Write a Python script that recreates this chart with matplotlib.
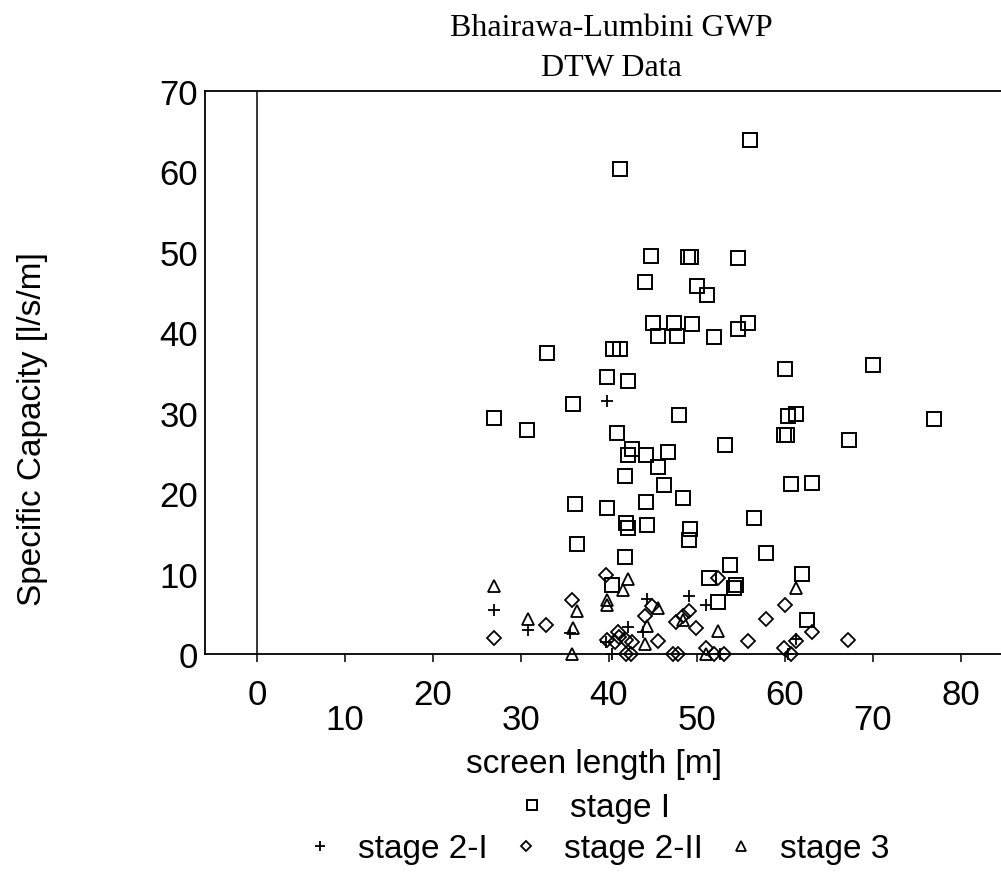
import matplotlib
matplotlib.use("Agg")
import matplotlib.pyplot as plt
from matplotlib.ticker import MultipleLocator

plt.rcParams["font.family"] = ["Liberation Sans", "DejaVu Sans"]

# screen length [m] vs specific capacity [l/s/m]
stage1_x = [56.0, 41.3, 44.8, 49.0, 49.3, 54.7, 44.1, 50.0, 51.1, 45.0,
            47.4, 49.5, 55.8, 45.6, 47.7, 52.0, 54.7, 33.0, 40.5, 41.3,
            39.8, 42.2, 35.9, 27.0, 30.7, 48.0, 40.9, 42.6, 42.2, 44.2,
            46.7, 53.2, 45.6, 41.8, 46.3, 36.1, 39.8, 44.2, 48.4, 60.0,
            70.0, 60.3, 61.3, 59.9, 60.2, 67.3, 76.9, 60.7, 63.1, 56.5,
            49.2, 49.1, 42.0, 42.2, 44.3, 36.4, 41.8, 40.3, 57.8, 53.8,
            51.4, 54.2, 54.5, 52.4, 62.0, 62.5]
stage1_y = [63.9, 60.3, 49.5, 49.4, 49.4, 49.3, 46.3, 45.8, 44.6, 41.1,
            41.1, 41.0, 41.1, 39.5, 39.6, 39.4, 40.4, 37.4, 37.9, 37.9,
            34.5, 33.9, 31.1, 29.4, 27.9, 29.7, 27.5, 25.5, 24.8, 24.8,
            25.1, 26.0, 23.2, 22.1, 21.0, 18.6, 18.1, 18.9, 19.4, 35.5,
            35.9, 29.6, 29.8, 27.2, 27.2, 26.6, 29.2, 21.2, 21.3, 16.9,
            15.6, 14.2, 16.3, 15.7, 16.0, 13.7, 12.1, 8.6, 12.5, 11.1,
            9.4, 8.2, 8.6, 6.5, 10.0, 4.2]

stage21_x = [26.9, 30.8, 39.8, 35.6, 39.7, 40.3, 42.2, 44.3, 43.9, 49.1,
             51.0, 52.6, 61.3, 60.4]
stage21_y = [5.5, 3.0, 31.5, 2.6, 1.5, 0.0, 3.4, 6.8, 2.8, 7.2,
             6.1, 0.0, 1.9, 0.0]

stage22_x = [26.9, 32.8, 35.8, 39.7, 39.8, 41.0, 41.2, 42.0, 42.6, 40.7,
             42.0, 42.5, 44.9, 44.1, 45.6, 47.3, 47.8, 47.6, 48.4, 49.1,
             52.4, 49.9, 51.0, 51.9, 53.1, 55.8, 57.8, 60.0, 61.3, 59.9,
             60.7, 63.1, 67.2]
stage22_y = [2.0, 3.6, 6.7, 9.8, 1.8, 2.7, 2.1, 1.8, 1.5, 1.5,
             0.0, 0.0, 6.0, 4.7, 1.6, 0.0, 0.0, 4.0, 4.7, 5.4,
             9.5, 3.2, 0.8, 0.0, 0.0, 1.6, 4.4, 6.1, 1.6, 0.8,
             0.0, 2.8, 1.7]

stage3_x = [26.9, 30.8, 36.4, 35.9, 35.8, 39.8, 39.8, 41.6, 42.2, 45.6,
            44.3, 44.1, 48.4, 52.4, 51.0, 61.3]
stage3_y = [8.5, 4.3, 5.3, 3.2, 0.0, 6.7, 6.1, 8.0, 9.3, 5.7,
            3.5, 1.2, 4.2, 2.9, 0.0, 8.2]

x_major = [0, 20, 40, 60, 80]
x_minor = [10, 30, 50, 70]

fig = plt.figure(figsize=(10.01, 8.79), dpi=100)
ax = fig.add_axes([0.2048, 0.2548, 0.843, 0.6405])

mk = dict(linestyle="none", color="black", markerfacecolor="none", clip_on=False)
h1, = ax.plot(stage1_x, stage1_y, marker="s", markersize=9.5, markeredgewidth=1.4, **mk)
h2, = ax.plot(stage21_x, stage21_y, marker="+", markersize=9, markeredgewidth=1.3, **mk)
h3, = ax.plot(stage22_x, stage22_y, marker="D", markersize=7, markeredgewidth=1.3, **mk)
h4, = ax.plot(stage3_x, stage3_y, marker="^", markersize=9, markeredgewidth=1.3, **mk)

ax.axvline(0, color="black", linewidth=1.1)

ax.set_xlim(-5.9, 90)
ax.set_ylim(0, 70)
for side in ["left", "top", "bottom"]:
    ax.spines[side].set_linewidth(1.3)
ax.spines["right"].set_visible(False)

ax.yaxis.set_major_locator(MultipleLocator(10))
ax.tick_params(axis="y", length=0, pad=5, labelsize=25)

# staggered x tick labels: even tens high, odd tens low
ax.set_xticks(x_major)
ax.set_xticks(x_minor, minor=True)
ax.set_xticklabels([str(v) for v in x_major])
ax.set_xticklabels([str(v) for v in x_minor], minor=True)
ax.tick_params(axis="x", which="major", direction="out", length=6, width=1.1,
               pad=11, labelsize=25)
ax.tick_params(axis="x", which="minor", direction="out", length=6, width=1.1,
               pad=29, labelsize=25)

ax.set_xlabel("screen length [m]", fontsize=24)
ax.xaxis.label.set_va("center")
ax.xaxis.set_label_coords(0.461, -0.195)
ax.set_ylabel("Specific Capacity [l/s/m]", fontsize=24)
ax.yaxis.label.set_va("center")
ax.yaxis.set_label_coords(-0.204, 0.401)

fig.text(0.611, 1 - 28 / 879, "Bhairawa-Lumbini GWP", ha="center", va="center",
         fontsize=23, family="Liberation Serif")
fig.text(0.611, 1 - 68 / 879, "DTW Data", ha="center", va="center",
         fontsize=23, family="Liberation Serif")

leg_kw = dict(frameon=False, fontsize=24, markerscale=0.75, handlelength=1.0,
              handletextpad=0.65, columnspacing=0.65, borderpad=0, borderaxespad=0)
fig.legend([h1], ["stage I"], loc="center",
           bbox_to_anchor=(593 / 1001, 1 - 809 / 879), **leg_kw)
fig.legend([h2, h3, h4], ["stage 2-I", "stage 2-II", "stage 3"], loc="center",
           ncol=3, bbox_to_anchor=(596 / 1001, 1 - 850 / 879), **leg_kw)

fig.savefig("out.png", dpi=100)
